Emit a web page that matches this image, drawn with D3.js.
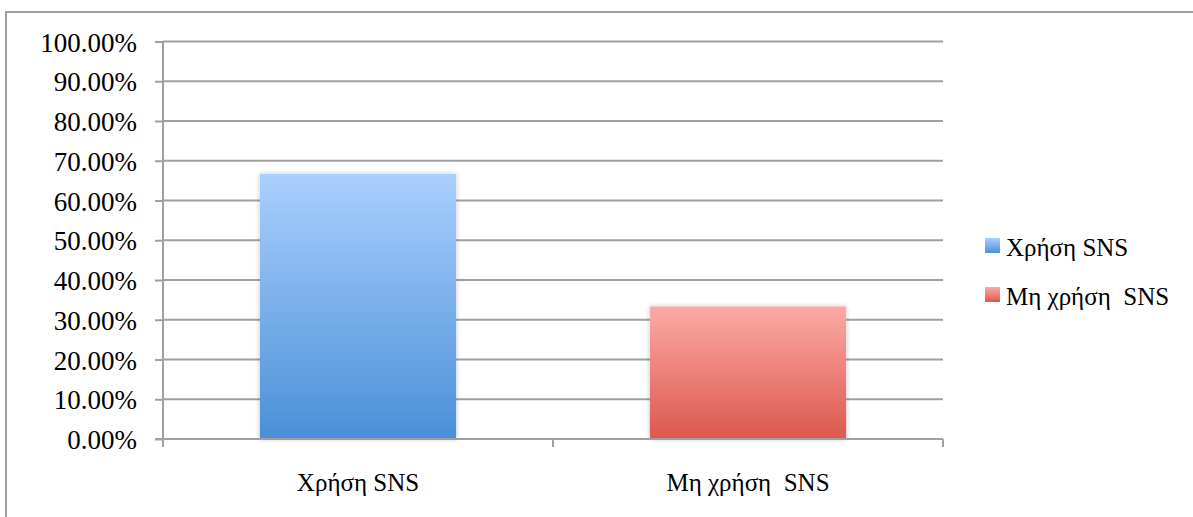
<!DOCTYPE html>
<html>
<head>
<meta charset="utf-8">
<script src="https://cdn.jsdelivr.net/npm/d3@7"></script>
<style>
html,body{margin:0;padding:0;background:#fff;}
svg text{font-family:"Liberation Serif",serif;fill:#000;white-space:pre;}
</style>
</head>
<body>
<svg id="chart" width="1193" height="517"></svg>
<script>
const categories = ["Χρήση SNS", "Μη χρήση  SNS"];
const values = [0.6667, 0.3333];
const seriesNames = ["Χρήση SNS", "Μη χρήση  SNS"];
const tickValues = [0, 0.1, 0.2, 0.3, 0.4, 0.5, 0.6, 0.7, 0.8, 0.9, 1.0];
const tickLabels = ["0.00%","10.00%","20.00%","30.00%","40.00%","50.00%","60.00%","70.00%","80.00%","90.00%","100.00%"];

const FONT = '"Liberation Serif", serif';
const svg = d3.select("#chart");
const gray = "#a0a0a0";

// outer frame
svg.append("rect").attr("x",6).attr("y",12).attr("width",1200).attr("height",520)
  .attr("fill","none").attr("stroke",gray).attr("stroke-width",2);

const defs = svg.append("defs");
const grads = [["#aacffe","#4a90d8"],["#fcaaa6","#db584c"]];
grads.forEach((g,i)=>{
  const lg = defs.append("linearGradient").attr("id","g"+i).attr("x1",0).attr("y1",0).attr("x2",0).attr("y2",1);
  lg.append("stop").attr("offset","0%").attr("stop-color",g[0]);
  lg.append("stop").attr("offset","100%").attr("stop-color",g[1]);
});
const f = defs.append("filter").attr("id","sh").attr("x","-10%").attr("y","-10%").attr("width","120%").attr("height","120%");
f.append("feDropShadow").attr("dx",0).attr("dy",0).attr("stdDeviation",2.5).attr("flood-color","#000").attr("flood-opacity",0.25);

const x0 = 163, x1 = 943, yTop = 41.5, yBase = 439;
const x = d3.scaleBand().domain(categories).range([x0,x1]).paddingInner(0.497).paddingOuter(0.2485);
const y = d3.scaleLinear().domain([0,1]).range([yBase,yTop]);

// gridlines
svg.append("g").selectAll("line").data(tickValues.slice(1)).join("line")
  .attr("x1",x0).attr("x2",x1).attr("y1",d=>y(d)).attr("y2",d=>y(d))
  .attr("stroke",gray).attr("stroke-width",2);

// bars
svg.append("g").selectAll("rect").data(values).join("rect")
  .attr("x",(d,i)=>x(categories[i])).attr("width",x.bandwidth())
  .attr("y",d=>y(d)).attr("height",d=>yBase-y(d))
  .attr("fill",(d,i)=>`url(#g${i})`).attr("filter","url(#sh)");

// y axis
const yAxis = d3.axisLeft(y).tickValues(tickValues).tickFormat((d,i)=>tickLabels[i]).tickSize(8).tickPadding(18);
const gy = svg.append("g").attr("transform",`translate(${x0},0)`).call(yAxis);
gy.attr("font-family",null).attr("font-size",null);
gy.select(".domain").attr("stroke",gray).attr("stroke-width",2).attr("d",`M0,${yTop}V${yBase+8}`);
gy.selectAll(".tick line").attr("stroke",gray).attr("stroke-width",2);
gy.selectAll(".tick text").style("font-family",FONT).style("font-size","27px").attr("fill","#000").attr("dy","0.36em");

// x axis baseline and ticks
const gx = svg.append("g");
gx.append("line").attr("x1",x0-8).attr("x2",x1).attr("y1",yBase).attr("y2",yBase).attr("stroke",gray).attr("stroke-width",2);
const bounds = [x0, ...categories.map(c=>x(c)+x.bandwidth()/2+x.step()/2)];
gx.selectAll("line.t").data(bounds).join("line").attr("class","t")
  .attr("x1",d=>d).attr("x2",d=>d).attr("y1",yBase).attr("y2",yBase+8).attr("stroke",gray).attr("stroke-width",2);
gx.selectAll("text").data(categories).join("text")
  .attr("x",d=>x(d)+x.bandwidth()/2).attr("y",491).attr("text-anchor","middle")
  .style("font-family",FONT).style("font-size","25px").text(d=>d);

// legend
const lg = svg.append("g");
const rows = lg.selectAll("g").data(seriesNames).join("g")
  .attr("transform",(d,i)=>`translate(985,${238+i*49})`);
rows.append("rect").attr("width",15).attr("height",15).attr("fill",(d,i)=>`url(#g${i})`);
rows.append("text").attr("x",21).attr("y",18)
  .style("font-family",FONT).style("font-size","25px").text(d=>d);
</script>
</body>
</html>
